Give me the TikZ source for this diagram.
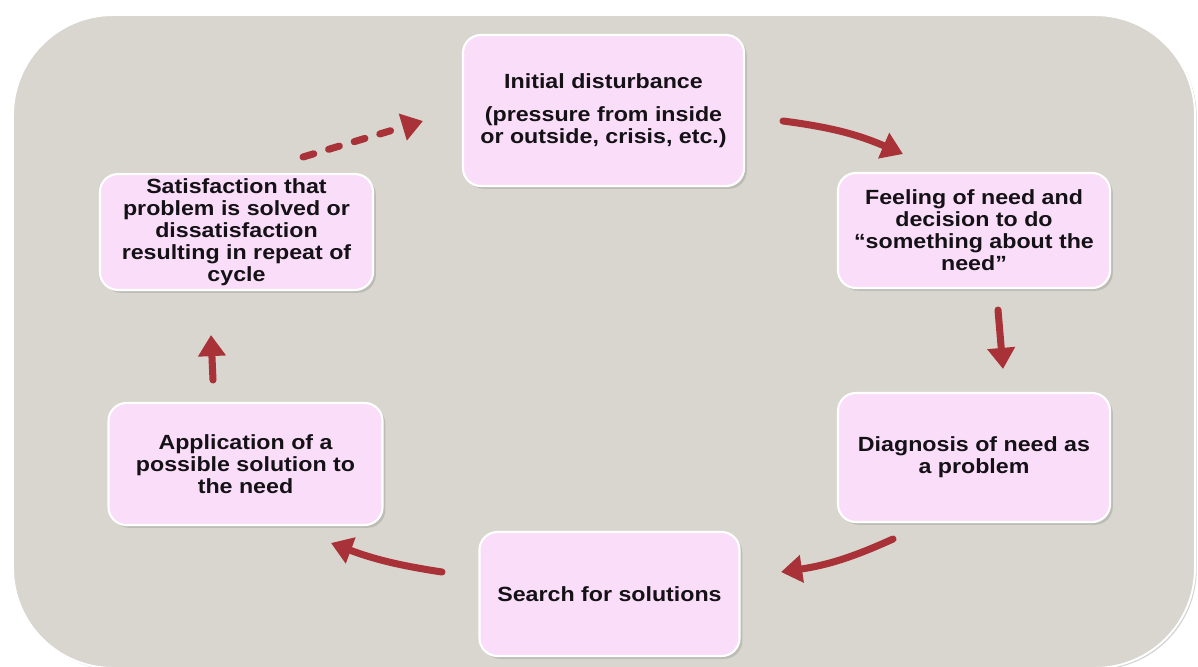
\documentclass[tikz,border=0pt]{standalone}
\usepackage{fontspec}
\newfontfamily\boxfont{Liberation Sans}[FakeStretch=1.13]
\usetikzlibrary{arrows.meta,shadows}

\definecolor{panelgray}{RGB}{216,214,206}
\definecolor{boxpink}{RGB}{250,221,248}
\definecolor{arrowred}{RGB}{168,50,55}
\definecolor{textdark}{RGB}{20,18,22}

\begin{document}
\begin{tikzpicture}[x=0.025cm,y=-0.025cm,
  panel/.style={fill=panelgray, draw=white, line width=1.4pt, rounded corners=2.5cm,
    drop shadow={shadow xshift=1.2pt, shadow yshift=-1.2pt, opacity=0.35}},
  stagebox/.style={fill=boxpink, draw=white, line width=1.5pt, rounded corners=0.45cm,
    align=center, text=textdark, inner sep=3pt,
    font=\boxfont\bfseries\fontsize{14.6pt}{15.7pt}\selectfont,
    drop shadow={shadow xshift=2pt, shadow yshift=-2pt, opacity=0.3}},
  flow/.style={draw=arrowred, line width=5pt, line cap=round,
    -{Triangle[length=15pt,width=19pt]}},
  dashflow/.style={flow, dash pattern=on 8pt off 11pt}
]
\useasboundingbox (0,0) rectangle (1198,666);

% background panel
\draw[panel] (13,15) rectangle (1195,668);

% the six stages of the cycle
\node[stagebox, minimum width=7.025cm, minimum height=3.775cm] (disturb) at (603.5,110.5)
  {Initial disturbance\\[8pt](pressure from inside\\or outside, crisis, etc.)};
\node[stagebox, minimum width=6.8cm, minimum height=2.875cm] (feeling) at (974,230.5)
  {Feeling of need and\\decision to do\\“something about the\\need”};
\node[stagebox, minimum width=6.8cm, minimum height=3.225cm] (diagnosis) at (974,457.5)
  {Diagnosis of need as\\a problem};
\node[stagebox, minimum width=6.5cm, minimum height=3.1cm] (search) at (609.5,594)
  {Search for solutions};
\node[stagebox, minimum width=6.85cm, minimum height=3.05cm] (apply) at (245.5,464)
  {Application of a\\possible solution to\\the need};
\node[stagebox, minimum width=6.825cm, minimum height=2.75cm] (satisf) at (236.5,232)
  {Satisfaction that\\problem is solved or\\dissatisfaction\\resulting in repeat of\\cycle};

% arrow end points between the stages
\coordinate (a1s) at (783,121);  \coordinate (a1e) at (903,154);
\coordinate (a2s) at (998,310);  \coordinate (a2e) at (1003,369);
\coordinate (a3s) at (893,539);  \coordinate (a3e) at (781,572);
\coordinate (a4s) at (442,572);  \coordinate (a4e) at (331,543);
\coordinate (a5s) at (213,380);  \coordinate (a5e) at (211,335);
\coordinate (a6s) at (303,157);  \coordinate (a6e) at (423,121);

\draw[flow] (a1s) to[bend left=8] (a1e);
\draw[flow] (a2s) -- (a2e);
\draw[flow] (a3s) to[bend left=8] (a3e);
\draw[flow] (a4s) to[bend left=6] (a4e);
\draw[flow] (a5s) -- (a5e);
\draw[dashflow] (a6s) -- (a6e);
\end{tikzpicture}
\end{document}
